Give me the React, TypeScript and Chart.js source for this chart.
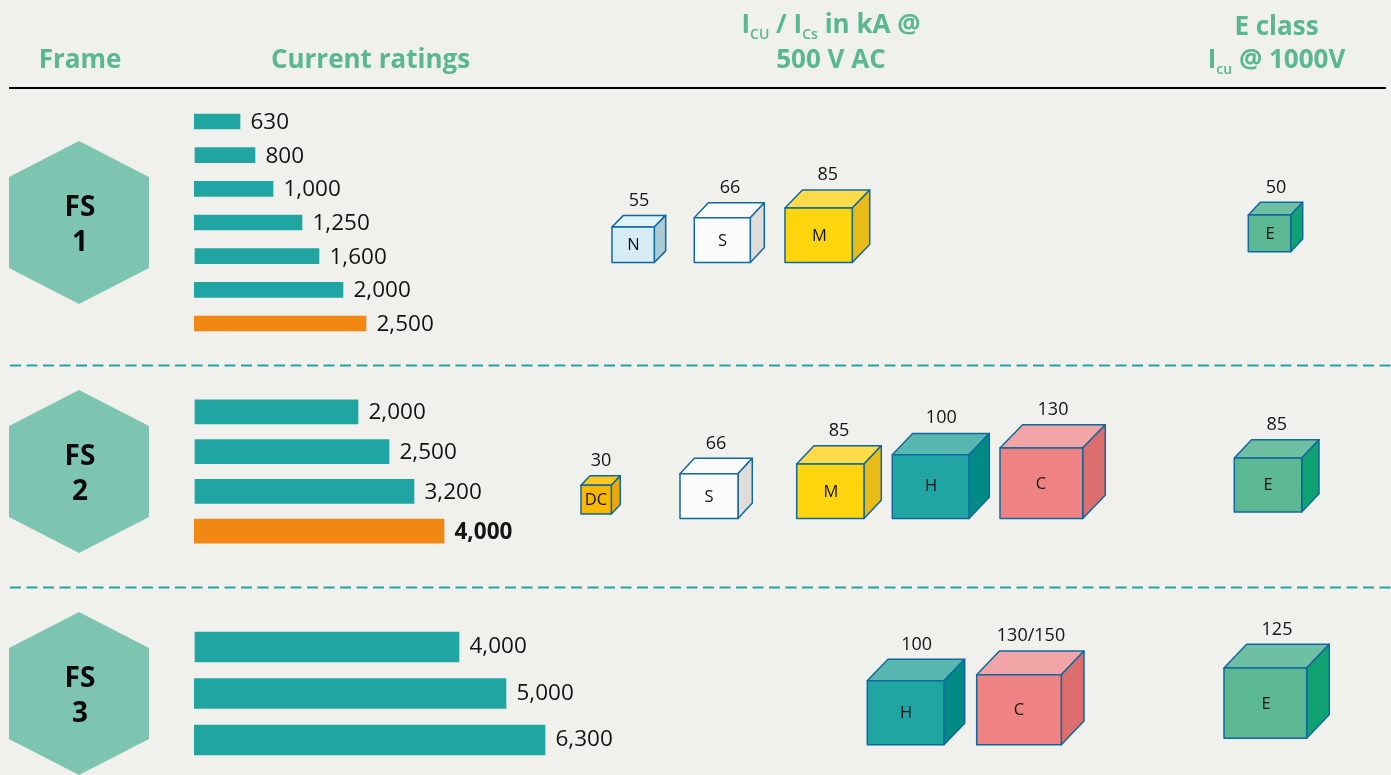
import React, { useEffect, useRef } from "react";
import { Chart, registerables } from "chart.js";

Chart.register(...registerables);

// ---------- data ----------
const fs1Ratings = ["630", "800", "1,000", "1,250", "1,600", "2,000", "2,500"];
const fs1Lengths = [46, 60, 79, 108, 124, 149, 172];
const fs1Indent = [0, 1, 0, 0, 1, 0, 0];
const fs2Ratings = ["2,000", "2,500", "3,200", "4,000"];
const fs2Lengths = [163, 194, 219, 250];
const fs2Indent = [1, 1, 1, 0];
const fs3Ratings = ["4,000", "5,000", "6,300"];
const fs3Lengths = [264, 312, 351];
const fs3Indent = [1, 0, 0];

const frameNames = ["1", "2", "3"];
const cubeClasses = ["N", "S", "M", "E", "DC", "S", "M", "H", "C", "E", "H", "C", "E"];
const cubeRatings = ["55", "66", "85", "50", "30", "66", "85", "100", "130", "85", "100", "130/150", "125"];

// ---------- layout ----------
const W = 1391;
const H = 775;
const BG = "#f0f1ec";
const TEAL = "#20a5a3";
const ORANGE = "#f18813";
const HEAD = "#59b791";
const HEX = "#7dc5b0";
const EDGE = "#0f689e";
const FONT = "'Open Sans', 'Noto Sans', sans-serif";

const palette: Record<string, [string, string, string]> = {
  N: ["#d7edf6", "#e1f1f8", "#a8ccd2"],
  S: ["#fbfbfb", "#fbfafa", "#e0dcda"],
  M: ["#ffd50e", "#ffdb4a", "#e8bb17"],
  DC: ["#fab900", "#ffc71f", "#e8a70a"],
  H: ["#20a5a2", "#59b7b2", "#008a85"],
  C: ["#ef8383", "#f2a5a6", "#dd6e6e"],
  E: ["#5cb892", "#6fbfa2", "#10a273"],
};

// left, top, right, bottom of the front face; depth dx, dy; class label centre; rating centre x and baseline
const cubeBoxes = [
  [612, 227, 654.3, 262.5, 11.4, 11.6, 633.5, 245, 639, 206],
  [694.3, 217.7, 750.3, 262.5, 14, 15, 722.5, 241, 730, 193],
  [785, 208, 852.3, 262.5, 17.4, 18, 819.5, 236, 827.7, 180],
  [1248.3, 215, 1290.7, 251.7, 12, 12.7, 1270, 234, 1276, 193],
  [581, 485.3, 611.3, 514, 9, 9.6, 596, 500, 601, 466],
  [680, 473.7, 738, 518.5, 14.3, 15.4, 709, 497, 716, 449],
  [796.7, 464, 864, 518.5, 17.3, 18.3, 831, 492, 839, 436],
  [892.3, 454.7, 969, 518.5, 20.3, 21.3, 931, 486, 941.3, 423],
  [1000, 448, 1082.7, 518.5, 22.6, 23.3, 1041, 484, 1053, 415],
  [1234.3, 458, 1301.7, 512, 17.3, 18.3, 1268, 485, 1276.7, 430],
  [867.3, 680.7, 944, 744.7, 20.7, 21.4, 906, 713, 916.7, 650],
  [976.7, 674.7, 1061.3, 744.7, 22.7, 23.7, 1019, 710, 1031, 641],
  [1224, 668, 1306.7, 738.3, 22.6, 23.7, 1266, 704, 1277, 635],
];
const hexCentres = [
  [79, 222.5],
  [79, 471.5],
  [79, 693.5],
];

type Run = { t: string; sub?: boolean };

function drawRuns(ctx: CanvasRenderingContext2D, runs: Run[], cx: number, y: number) {
  const big = `700 26px ${FONT}`;
  const small = `600 14px ${FONT}`;
  let total = 0;
  for (const r of runs) {
    ctx.font = r.sub ? small : big;
    total += ctx.measureText(r.t).width;
  }
  let x = cx - total / 2;
  ctx.textAlign = "left";
  ctx.textBaseline = "alphabetic";
  ctx.fillStyle = HEAD;
  for (const r of runs) {
    ctx.font = r.sub ? small : big;
    ctx.fillText(r.t, x, r.sub ? y + 6 : y);
    x += ctx.measureText(r.t).width;
  }
}

function poly(ctx: CanvasRenderingContext2D, pts: number[][], fill: string) {
  ctx.beginPath();
  pts.forEach((p, i) => (i ? ctx.lineTo(p[0], p[1]) : ctx.moveTo(p[0], p[1])));
  ctx.closePath();
  ctx.fillStyle = fill;
  ctx.fill();
  ctx.stroke();
}

const overlayPlugin = {
  id: "overlay",
  afterDatasetsDraw(chart: any) {
    const ctx: CanvasRenderingContext2D = chart.ctx;
    ctx.save();
    // headers
    drawRuns(ctx, [{ t: "Frame" }], 80, 68);
    drawRuns(ctx, [{ t: "Current ratings" }], 370.5, 68);
    drawRuns(
      ctx,
      [{ t: "I" }, { t: "CU", sub: true }, { t: " / I" }, { t: "Cs", sub: true }, { t: " in kA @" }],
      831,
      33,
    );
    drawRuns(ctx, [{ t: "500 V AC" }], 831, 68);
    drawRuns(ctx, [{ t: "E class" }], 1276.5, 35);
    drawRuns(ctx, [{ t: "I" }, { t: "cu", sub: true }, { t: " @ 1000V" }], 1276.5, 68);

    // hexagons
    const hexMeta = chart.getDatasetMeta(0);
    hexMeta.data.forEach((pt: any, i: number) => {
      const { x, y } = pt;
      ctx.beginPath();
      ctx.moveTo(x, y - 81.5);
      ctx.lineTo(x + 70, y - 45.5);
      ctx.lineTo(x + 70, y + 45.5);
      ctx.lineTo(x, y + 81.5);
      ctx.lineTo(x - 70, y + 45.5);
      ctx.lineTo(x - 70, y - 45.5);
      ctx.closePath();
      ctx.fillStyle = HEX;
      ctx.fill();
      ctx.fillStyle = "#0a0a0a";
      ctx.font = `700 28px ${FONT}`;
      ctx.textAlign = "center";
      ctx.textBaseline = "alphabetic";
      ctx.fillText("FS", x + 1, y - 6.5);
      ctx.fillText(frameNames[i], x + 1, y + 28.5);
    });

    // cubes
    const cubeMeta = chart.getDatasetMeta(1);
    cubeMeta.data.forEach((pt: any, i: number) => {
      const [l, t, r, b, dx, dy, lx, ly, vx, vy] = cubeBoxes[i];
      const hw = (r - l) / 2;
      const hh = (b - t) / 2;
      const L = pt.x - hw;
      const R = pt.x + hw;
      const T = pt.y - hh;
      const B = pt.y + hh;
      const [front, top, side] = palette[cubeClasses[i]];
      ctx.strokeStyle = EDGE;
      ctx.lineWidth = 1.5;
      ctx.lineJoin = "round";
      poly(ctx, [[L, T], [L + dx, T - dy], [R + dx, T - dy], [R, T]], top);
      poly(ctx, [[R, T], [R + dx, T - dy], [R + dx, B - dy], [R, B]], side);
      poly(ctx, [[L, T], [R, T], [R, B], [L, B]], front);
      ctx.fillStyle = "#141414";
      ctx.textAlign = "center";
      ctx.textBaseline = "middle";
      ctx.font = `400 16.5px ${FONT}`;
      ctx.fillText(cubeClasses[i], lx, ly);
      ctx.textBaseline = "alphabetic";
      ctx.font = `400 18px ${FONT}`;
      ctx.fillText(cubeRatings[i], vx, vy);
    });
    ctx.restore();
  },
};

const barLabelPlugin = {
  id: "barLabels",
  afterDatasetsDraw(chart: any, _args: any, opts: any) {
    const ctx: CanvasRenderingContext2D = chart.ctx;
    const meta = chart.getDatasetMeta(0);
    ctx.save();
    ctx.textAlign = "left";
    ctx.textBaseline = "alphabetic";
    ctx.fillStyle = "#141414";
    meta.data.forEach((bar: any, i: number) => {
      const bold = opts.boldIndex === i;
      ctx.font = `${bold ? 700 : 400} 22.5px ${FONT}`;
      ctx.fillText(chart.data.labels[i], bar.x + 10.5, bar.y + opts.shift);
    });
    ctx.restore();
  },
};

const hiddenBase = {
  animation: false,
  responsive: false,
  maintainAspectRatio: false,
  events: [],
};

function makeBars(
  canvas: HTMLCanvasElement,
  labels: string[],
  lengths: number[],
  indent: number[],
  top: number,
  bottom: number,
  thickness: number,
  orangeIndex: number,
  shift: number,
  boldIndex: number,
) {
  return new Chart(canvas, {
    type: "bar",
    data: {
      labels,
      datasets: [
        {
          data: lengths.map((v, i) => [indent[i], v + indent[i]]),
          backgroundColor: labels.map((_, i) => (i === orangeIndex ? ORANGE : TEAL)),
          barThickness: thickness,
          borderSkipped: false,
        },
      ],
    },
    options: {
      ...hiddenBase,
      indexAxis: "y",
      layout: { padding: { left: 194, right: 0, top, bottom: H - bottom } },
      scales: {
        x: { display: false, min: 0, max: W - 194 },
        y: { display: false },
      },
      plugins: {
        legend: { display: false },
        tooltip: { enabled: false },
        barLabels: { shift, boldIndex },
      },
    },
    plugins: [barLabelPlugin],
  } as any);
}

function makeOverlay(canvas: HTMLCanvasElement) {
  const rule = (y: number, x0: number, x1: number, color: string, dash: number[]) => ({
    type: "line",
    data: [
      { x: x0, y },
      { x: x1, y },
    ],
    borderColor: color,
    borderWidth: 2,
    borderDash: dash,
    pointRadius: 0,
    fill: false,
  });
  return new Chart(canvas, {
    type: "scatter",
    data: {
      datasets: [
        { data: hexCentres.map(([x, y]) => ({ x, y })), pointRadius: 0 },
        {
          data: cubeBoxes.map((b) => ({ x: (b[0] + b[2]) / 2, y: (b[1] + b[3]) / 2 })),
          pointRadius: 0,
        },
        rule(88, 9, 1386, "#000000", []),
        rule(365.5, 10, W, TEAL, [11, 5.5]),
        rule(587.5, 10, W, TEAL, [11, 5.5]),
      ],
    },
    options: {
      ...hiddenBase,
      scales: {
        x: { type: "linear", display: false, min: 0, max: W },
        y: { type: "linear", display: false, min: 0, max: H, reverse: true },
      },
      plugins: { legend: { display: false }, tooltip: { enabled: false } },
    },
    plugins: [overlayPlugin],
  } as any);
}

const canvasStyle: React.CSSProperties = { position: "absolute", left: 0, top: 0, display: "block" };

export default function App() {
  const a = useRef<HTMLCanvasElement>(null);
  const b = useRef<HTMLCanvasElement>(null);
  const c = useRef<HTMLCanvasElement>(null);
  const d = useRef<HTMLCanvasElement>(null);

  useEffect(() => {
    document.body.style.margin = "0";
    document.body.style.background = BG;
    document.body.style.overflow = "hidden";
    const charts = [
      makeOverlay(d.current!),
      makeBars(a.current!, fs1Ratings, fs1Lengths, fs1Indent, 104.7, 340.3, 15, 6, 7.5, -1),
      makeBars(b.current!, fs2Ratings, fs2Lengths, fs2Indent, 392, 551, 24, 3, 7.5, 3),
      makeBars(c.current!, fs3Ratings, fs3Lengths, fs3Indent, 623.75, 763.25, 30, -1, 6, -1),
    ];
    return () => charts.forEach((ch) => ch.destroy());
  }, []);

  return (
    <div style={{ position: "relative", width: W, height: H, background: BG, overflow: "hidden" }}>
      <canvas ref={d} width={W} height={H} style={canvasStyle} />
      <canvas ref={a} width={W} height={H} style={canvasStyle} />
      <canvas ref={b} width={W} height={H} style={canvasStyle} />
      <canvas ref={c} width={W} height={H} style={canvasStyle} />
    </div>
  );
}
